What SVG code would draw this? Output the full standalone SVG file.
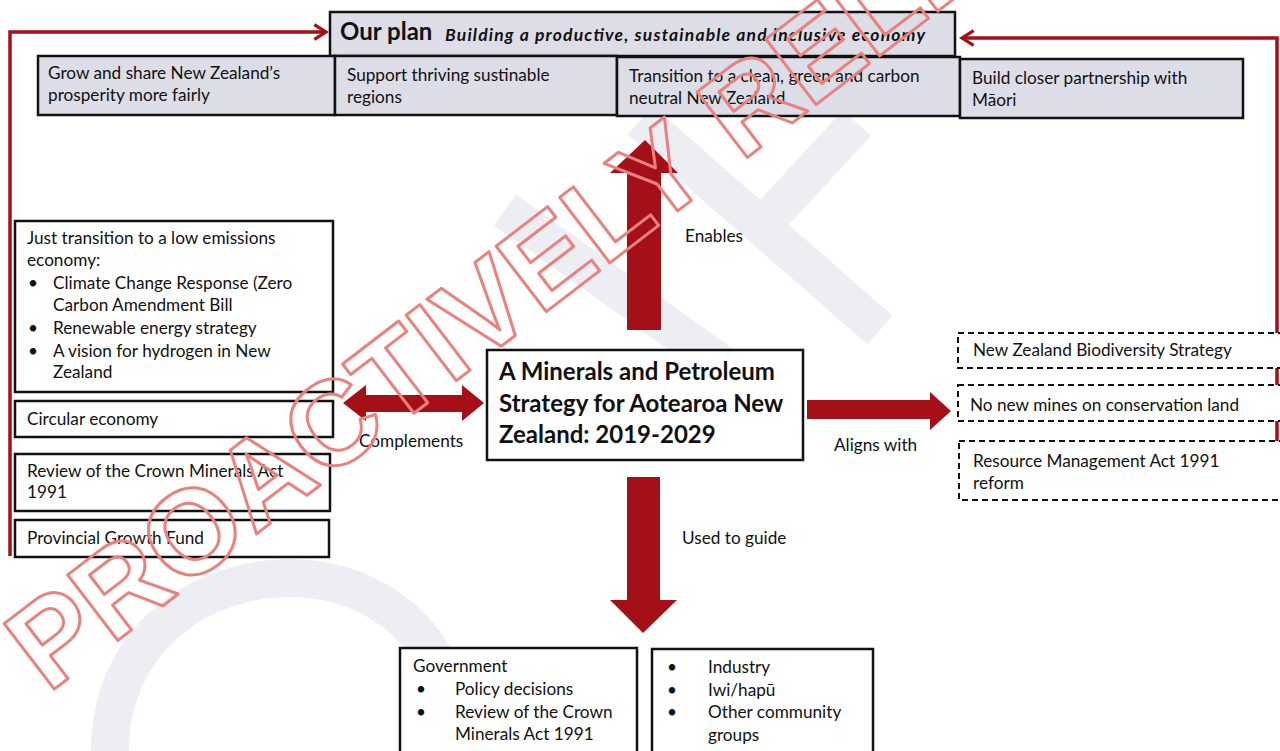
<svg xmlns="http://www.w3.org/2000/svg" width="1280" height="751" viewBox="0 0 1280 751">
<defs>
<style>
.t{font-family:Lato,"Open Sans","Liberation Sans",sans-serif;font-size:17.2px;fill:#111}
.b{font-weight:bold}
.box{fill:#fff;stroke:#111;stroke-width:2.5}
.gbox{fill:#dcdde6;stroke:#111;stroke-width:2.5}
.dbox{fill:#fff;stroke:#111;stroke-width:2;stroke-dasharray:6 4}
.arr{fill:#a40f18}
.line{fill:none;stroke:#a40f18;stroke-width:3.5}
.wm{font-family:"Liberation Sans",Arial,sans-serif;font-weight:bold;font-size:120px;fill:none;stroke:#e8827e;stroke-width:3;stroke-linejoin:round}
</style>
<marker id="chev" viewBox="0 0 12 12" refX="10" refY="6" markerWidth="5" markerHeight="5" orient="auto" markerUnits="strokeWidth">
<path d="M2,1 L10,6 L2,11" fill="none" stroke="#a40f18" stroke-width="2.2"/>
</marker>
</defs>
<rect width="1280" height="751" fill="#fff"/>

<g id="background-logo" fill="none" stroke="#eceef3" stroke-width="38" stroke-linecap="butt">
<path d="M640,120 L880,330"/>
<path d="M857,123 L770,217"/>
<path d="M505,210 L730,370"/>
<path d="M110,751 C110,640 200,578 290,578 C380,578 455,640 462,751"/>
</g>

<g id="connectors">
<path class="line" d="M10,556 V32 H326" marker-end="url(#chev)"/>
<path class="line" d="M1277,498 V38 H962" marker-end="url(#chev)"/>
<polygon id="arrow-enables" class="arr" points="627,330 661,330 661,173 678,173 645,140 610,173 627,173"/>
<polygon id="arrow-complements" class="arr" points="343,403 366,385 366,395 462,395 462,385 484,403 462,421 462,412 366,412 366,421"/>
<polygon id="arrow-aligns" class="arr" points="807,400 930,400 930,392 951,411 930,430 930,419 807,419"/>
<polygon id="arrow-guide" class="arr" points="627,477 660,477 660,600 677,600 643,633 610,600 627,600"/>
<text class="t" x="685" y="242">Enables</text>
<text class="t" x="359" y="447">Complements</text>
<text class="t" x="834" y="451">Aligns with</text>
<text class="t" x="682" y="544">Used to guide</text>
</g>

<g id="our-plan">
<rect class="gbox" x="330" y="12" width="625" height="44"/>
<text class="t b" x="340" y="40" style="font-size:24px">Our plan</text>
<text class="t b" x="445" y="41" textLength="480" style="font-size:17.5px;font-style:italic">Building a productive, sustainable and inclusive economy</text>
</g>
<g id="goal-1">
<rect class="gbox" x="38" y="56" width="297" height="59"/>
<text class="t" x="48" y="79">Grow and share New Zealand’s</text>
<text class="t" x="48" y="101">prosperity more fairly</text>
</g>
<g id="goal-2">
<rect class="gbox" x="335" y="56" width="282" height="59"/>
<text class="t" x="347" y="81">Support thriving sustinable</text>
<text class="t" x="347" y="103">regions</text>
</g>
<g id="goal-3">
<rect class="gbox" x="617" y="57" width="343" height="59"/>
<text class="t" x="629" y="82">Transition to a clean, green and carbon</text>
<text class="t" x="629" y="104">neutral New Zealand</text>
</g>
<g id="goal-4">
<rect class="gbox" x="960" y="59" width="283" height="59"/>
<text class="t" x="972" y="84">Build closer partnership with</text>
<text class="t" x="972" y="106">Māori</text>
</g>

<g id="just-transition">
<rect class="box" x="15" y="221" width="318" height="171"/>
<text class="t" x="27" y="244">Just transition to a low emissions</text>
<text class="t" x="27" y="266">economy:</text>
<text class="t" x="28" y="289">•</text><text class="t" x="53" y="289">Climate Change Response (Zero</text>
<text class="t" x="53" y="311">Carbon Amendment Bill</text>
<text class="t" x="28" y="334">•</text><text class="t" x="53" y="334">Renewable energy strategy</text>
<text class="t" x="28" y="357">•</text><text class="t" x="53" y="357">A vision for hydrogen in New</text>
<text class="t" x="53" y="378">Zealand</text>
</g>
<g id="circular-economy">
<rect class="box" x="15" y="401" width="318" height="36"/>
<text class="t" x="27" y="425">Circular economy</text>
</g>
<g id="crown-minerals-review">
<rect class="box" x="15" y="454" width="315" height="57"/>
<text class="t" x="27" y="477">Review of the Crown Minerals Act</text>
<text class="t" x="27" y="498">1991</text>
</g>
<g id="provincial-growth-fund">
<rect class="box" x="15" y="520" width="314" height="37"/>
<text class="t" x="27" y="544">Provincial Growth Fund</text>
</g>

<g id="strategy">
<rect class="box" x="487" y="350" width="316" height="110"/>
<text class="t b" x="499" y="380" style="font-size:24px">A Minerals and Petroleum</text>
<text class="t b" x="499" y="412" style="font-size:24px">Strategy for Aotearoa New</text>
<text class="t b" x="499" y="443" style="font-size:24px">Zealand: 2019-2029</text>
</g>

<g id="biodiversity">
<rect class="dbox" x="958" y="333" width="330" height="35"/>
<text class="t" x="973" y="356">New Zealand Biodiversity Strategy</text>
</g>
<g id="no-new-mines">
<rect class="dbox" x="958" y="385" width="330" height="36"/>
<text class="t" x="970" y="411">No new mines on conservation land</text>
</g>
<g id="rma-reform">
<rect class="dbox" x="959" y="441" width="330" height="59"/>
<text class="t" x="973" y="467">Resource Management Act 1991</text>
<text class="t" x="973" y="489">reform</text>
</g>

<g id="government">
<rect class="box" x="400" y="648" width="237" height="110"/>
<text class="t" x="413" y="672">Government</text>
<text class="t" x="416" y="695">•</text><text class="t" x="455" y="695">Policy decisions</text>
<text class="t" x="416" y="718">•</text><text class="t" x="455" y="718">Review of the Crown</text>
<text class="t" x="455" y="740">Minerals Act 1991</text>
</g>
<g id="stakeholders">
<rect class="box" x="652" y="649" width="221" height="110"/>
<text class="t" x="667" y="673">•</text><text class="t" x="708" y="673">Industry</text>
<text class="t" x="667" y="696">•</text><text class="t" x="708" y="696">Iwi/hapū</text>
<text class="t" x="667" y="718">•</text><text class="t" x="708" y="718">Other community</text>
<text class="t" x="708" y="741">groups</text>
</g>

<text class="wm" transform="translate(48,694) rotate(-37.5)">PROACTIVELY RELEASED</text>
</svg>
